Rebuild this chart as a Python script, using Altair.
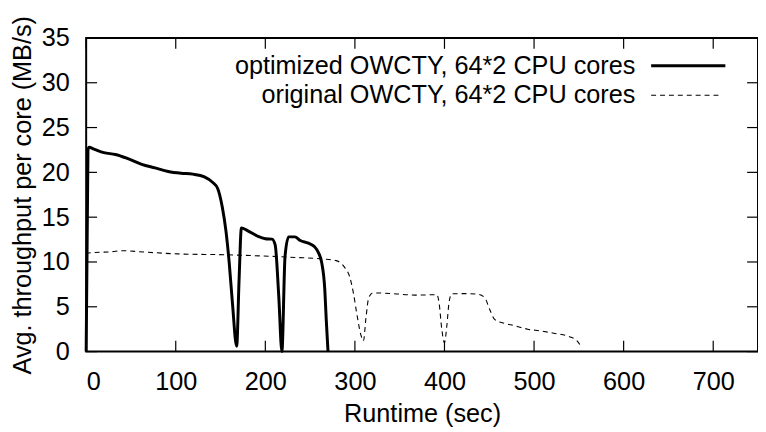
import altair as alt
import pandas as pd

# Data (Runtime in sec, throughput in MB/s)
opt_x = [0, 2, 3.2, 8.7, 19.8, 32.7, 47.4, 62, 76.8, 91.6,
         106, 119, 132, 141, 146.8, 152, 156, 159.7, 163.3, 168,
         170.7, 173.3, 180, 191, 200, 207.5, 211, 215, 218.5, 222,
         226, 233, 239, 248, 255, 259, 263, 266.4, 268, 270]
opt_y = [0, 22.5, 22.8, 22.6, 22.2, 22.0, 21.5, 20.9, 20.5, 20.1,
         19.9, 19.8, 19.5, 18.9, 18.2, 16.1, 13.5, 9.9, 5.4, 0.6,
         8.0, 13.8, 13.5, 12.9, 12.6, 12.55, 11.9, 6.2, 0, 10.6,
         12.8, 12.8, 12.4, 12.1, 11.7, 11.1, 9.9, 6.9, 3.6, 0]

orig_x = [0, 1, 29, 40, 66, 102.6, 158, 213, 235, 257,
          268, 279, 288.5, 294, 298.4, 302, 307, 309.5, 312.4, 315.4,
          319.8, 342, 367.6, 391.6, 394, 397, 400, 402.6, 405, 408,
          423, 437.6, 445, 450.5, 456, 467, 478, 492.8, 507.6, 522,
          537, 548, 553]
orig_y = [10.9, 11.0, 11.15, 11.26, 11.1, 10.9, 10.8, 10.6, 10.5, 10.4,
          10.3, 10.15, 9.4, 8.4, 6.5, 4.3, 1.75, 1.2, 3.8, 6.0,
          6.55, 6.47, 6.3, 6.35, 5.4, 2.5, 1.0, 2.85, 5.4, 6.45,
          6.47, 6.4, 6.0, 4.7, 3.6, 3.15, 2.9, 2.5, 2.3, 2.05,
          1.75, 1.2, 0.45]

x_ticks = [0, 100, 200, 300, 400, 500, 600, 700]
y_ticks = [0, 5, 10, 15, 20, 25, 30, 35]
legend_labels = ["optimized OWCTY, 64*2 CPU cores", "original OWCTY, 64*2 CPU cores"]

W, H = 679, 317
FONT = "Liberation Sans"
FS = 25.5
TICK = 11

xs = alt.Scale(domain=[0, 750], nice=False, zero=False)
ys = alt.Scale(domain=[0, 35], nice=False, zero=False)

opt_df = pd.DataFrame({"x": opt_x, "y": opt_y})
orig_df = pd.DataFrame({"x": orig_x, "y": orig_y})
xt_df = pd.DataFrame({"x": x_ticks})
yt_df = pd.DataFrame({"y": y_ticks})

x_enc = alt.X("x:Q", scale=xs,
              axis=alt.Axis(values=x_ticks, title="Runtime (sec)", labelPadding=30,
                            labelBaseline="middle", titleY=63, titleBaseline="middle"))
y_enc = alt.Y("y:Q", scale=ys,
              axis=alt.Axis(values=y_ticks, title="Avg. throughput per core (MB/s)",
                            labelPadding=17, titleX=-64, titleBaseline="middle"))

opt_line = alt.Chart(opt_df).mark_line(
    color="black", strokeWidth=3, interpolate="monotone", strokeJoin="round"
).encode(x=x_enc, y=y_enc)

orig_line = alt.Chart(orig_df).mark_line(
    color="black", strokeWidth=1.1, strokeDash=[5, 4], interpolate="monotone"
).encode(x="x:Q", y="y:Q")

bottom_ticks = alt.Chart(xt_df).mark_rule(color="black", strokeWidth=1.2).encode(
    x="x:Q", y=alt.value(H), y2=alt.value(H - TICK))
top_ticks = alt.Chart(xt_df).mark_rule(color="black", strokeWidth=1.2).encode(
    x="x:Q", y=alt.value(0), y2=alt.value(TICK))
left_ticks = alt.Chart(yt_df).mark_rule(color="black", strokeWidth=1.2).encode(
    y="y:Q", x=alt.value(0), x2=alt.value(TICK))
right_ticks = alt.Chart(yt_df).mark_rule(color="black", strokeWidth=1.2).encode(
    y="y:Q", x=alt.value(W - TICK), x2=alt.value(W))

# manual legend (gnuplot style: label left of sample)
leg_text1 = alt.Chart(pd.DataFrame({"t": [legend_labels[0]]})).mark_text(
    align="right", baseline="middle", font=FONT, fontSize=FS, color="black"
).encode(text="t:N", x=alt.value(555), y=alt.value(28))
leg_text2 = alt.Chart(pd.DataFrame({"t": [legend_labels[1]]})).mark_text(
    align="right", baseline="middle", font=FONT, fontSize=FS, color="black"
).encode(text="t:N", x=alt.value(555), y=alt.value(58))
leg_line1 = alt.Chart(pd.DataFrame({"t": [legend_labels[0]]})).mark_rule(
    color="black", strokeWidth=3
).encode(x=alt.value(571), x2=alt.value(646), y=alt.value(28))
leg_line2 = alt.Chart(pd.DataFrame({"t": [legend_labels[1]]})).mark_rule(
    color="black", strokeWidth=1.1, strokeDash=[5, 4]
).encode(x=alt.value(571), x2=alt.value(641), y=alt.value(58))

chart = alt.layer(
    opt_line, orig_line, bottom_ticks, top_ticks, left_ticks, right_ticks,
    leg_text1, leg_text2, leg_line1, leg_line2
).properties(
    width=W, height=H,
    autosize=alt.AutoSizeParams(type="none"),
    padding={"left": 79, "top": 28, "right": 0, "bottom": 79},
).configure_view(
    stroke="black", strokeWidth=2
).configure_axis(
    domain=False, grid=False, ticks=False, tickSize=0,
    labelFont=FONT, titleFont=FONT, labelFontSize=FS, titleFontSize=FS,
    labelColor="black", titleColor="black", titleFontWeight="normal",
)

chart.save("out.html", embed_options={"renderer": "svg", "actions": False})
